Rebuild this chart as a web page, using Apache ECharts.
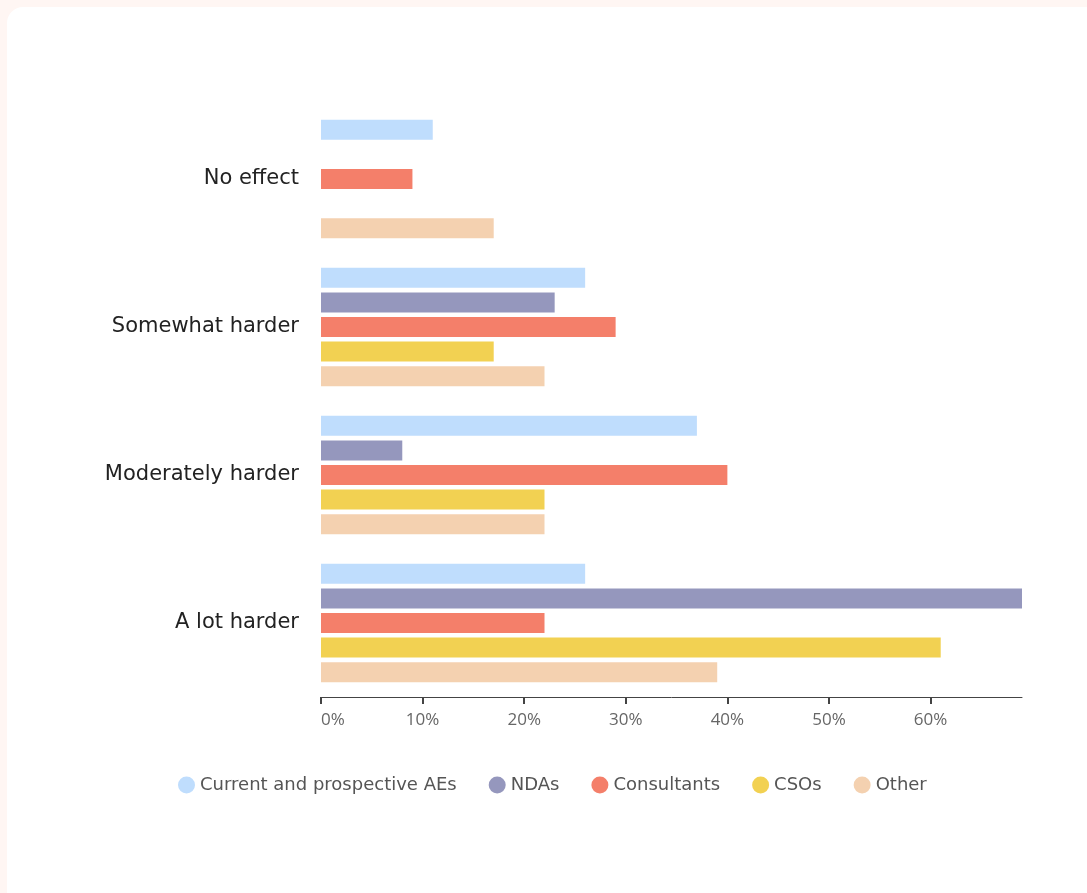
<!DOCTYPE html>
<html>
<head>
<meta charset="utf-8">
<script src="https://cdn.jsdelivr.net/npm/echarts@6/dist/echarts.min.js"></script>
<style>
  html, body { margin: 0; padding: 0; background: #fff6f3; }
  #card { position: absolute; left: 7px; top: 7px; width: 1200px; height: 1000px; background: #ffffff; border-radius: 16px; }
  #chart { position: absolute; left: 0; top: 0; width: 1087px; height: 893px; }
</style>
</head>
<body>
<div id="card"></div>
<div id="chart"></div>
<script>
// Impact categories, top to bottom
const categories = ['No effect', 'Somewhat harder', 'Moderately harder', 'A lot harder'];

// Share of respondents (%) per stakeholder group
const seriesNames = ['Current and prospective AEs', 'NDAs', 'Consultants', 'CSOs', 'Other'];
const aes         = [11, 26, 37, 26];
const ndas        = [0, 23, 8, 69];
const consultants = [9, 29, 40, 22];
const csos        = [0, 17, 22, 61];
const other       = [17, 22, 22, 39];

const xTicks = [0, 10, 20, 30, 40, 50, 60];

const colors = ['#bfddfd', '#9597bd', '#f47f6a', '#f2d152', '#f4d1b0'];
const values = [aes, ndas, consultants, csos, other];

const labelFont = '"DejaVu Sans", "Noto Sans", sans-serif';
const tickFont = '"Open Sans", "Noto Sans", sans-serif';

const chart = echarts.init(document.getElementById('chart'), null, { renderer: 'canvas' });

chart.setOption({
  backgroundColor: 'transparent',
  color: colors,
  animation: false,
  textStyle: { fontFamily: labelFont },
  grid: { left: 321, right: 65, top: 105, bottom: 196, containLabel: false },
  legend: {
    data: seriesNames,
    left: 173,
    top: 771,
    icon: 'circle',
    itemWidth: 17,
    itemHeight: 17,
    itemGap: 32,
    textStyle: { color: '#555555', fontSize: 18, fontFamily: labelFont }
  },
  xAxis: {
    type: 'value',
    min: 0,
    max: 69,
    interval: 10,
    splitLine: { show: false },
    axisLine: { show: true, lineStyle: { color: '#444444', width: 1 } },
    axisTick: { show: true, length: 7, lineStyle: { color: '#444444', width: 2 },
      customValues: xTicks },
    axisLabel: {
      color: '#666666', fontSize: 17, margin: 15,
      fontFamily: tickFont,
      customValues: xTicks,
      alignMinLabel: 'left',
      formatter: v => v + '%'
    }
  },
  yAxis: {
    type: 'category',
    data: categories,
    inverse: true,
    axisLine: { show: false },
    axisTick: { show: false },
    axisLabel: { color: '#222222', fontSize: 21, margin: 22, padding: [4, 0, 0, 0] }
  },
  series: seriesNames.map((name, i) => ({
    name: name,
    type: 'bar',
    data: values[i],
    barGap: '22.5%',
    barCategoryGap: '20%',
    itemStyle: { color: colors[i] }
  }))
});
</script>
</body>
</html>
